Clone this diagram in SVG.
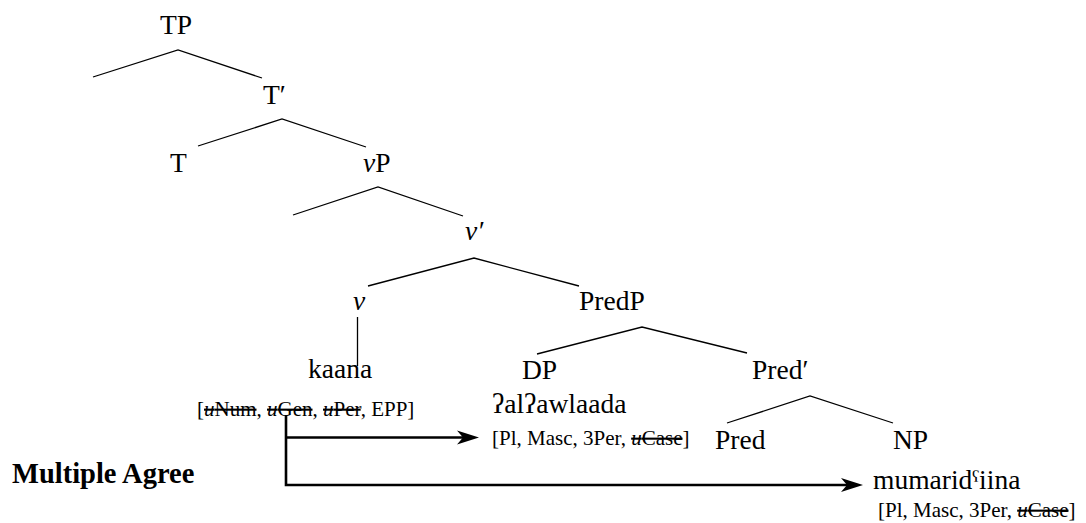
<svg xmlns="http://www.w3.org/2000/svg" width="1086" height="523" viewBox="0 0 1086 523">
<style>
text{font-family:"Liberation Serif","DejaVu Serif","Times New Roman",serif;fill:#000}
.n{font-size:27.5px}
.f{font-size:21px}
.b{font-size:28.5px;font-weight:bold}
.i{font-style:italic}
.s{text-decoration:line-through}
.br{fill:none;stroke:#000;stroke-width:1.3}
.ar{fill:none;stroke:#000;stroke-width:2.6}
</style>
<defs>
<marker id="ah" viewBox="0 0 22 16" refX="12" refY="8" markerWidth="22" markerHeight="16" markerUnits="userSpaceOnUse" orient="auto">
<path d="M0,1 L22,8 L0,15 L6,8 Z" fill="#000"/>
</marker>
</defs>
<rect width="1086" height="523" fill="#fff"/>
<g id="connectors">
<polyline class="br" points="93,77 178,50 262,78"/>
<polyline class="br" points="198,146 282,119 366,147"/>
<polyline class="br" points="293,215 378,187 463,216"/>
<polyline class="br" points="368,286 474,258 579,286"/>
<line class="br" x1="357.5" y1="317" x2="357.5" y2="366"/>
<polyline class="br" points="537,354 642,327 747,353"/>
<polyline class="br" points="727,423 810,396 893,423"/>
<path class="ar" d="M286,415 V485 H853" marker-end="url(#ah)"/>
<path class="ar" d="M286,437.5 H469" marker-end="url(#ah)"/>
</g>
<g id="TP"><text class="n" x="160" y="34">TP</text></g>
<g id="Tbar"><text class="n" x="263" y="104">T′</text></g>
<g id="T"><text class="n" x="170" y="172">T</text></g>
<g id="vP"><text class="n" x="363" y="172"><tspan class="i">v</tspan>P</text></g>
<g id="vbar"><text class="n" x="465" y="240"><tspan class="i">v′</tspan></text></g>
<g id="v"><text class="n i" x="353" y="310">v</text></g>
<g id="PredP"><text class="n" x="579" y="310">PredP</text></g>
<g id="kaana">
<text class="n" x="308" y="378">kaana</text>
<text class="f" x="197" y="416">[<tspan class="s"><tspan class="i">u</tspan>Num</tspan>, <tspan class="s"><tspan class="i">u</tspan>Gen</tspan>, <tspan class="s"><tspan class="i">u</tspan>Per</tspan>, EPP]</text>
</g>
<g id="DP">
<text class="n" x="522" y="379">DP</text>
<text class="n" x="492" y="413">ʔalʔawlaada</text>
<text class="f" x="492" y="445">[Pl, Masc, 3Per, <tspan class="s"><tspan class="i">u</tspan>Case</tspan>]</text>
</g>
<g id="Predbar"><text class="n" x="752" y="379">Pred′</text></g>
<g id="Pred"><text class="n" x="715" y="449">Pred</text></g>
<g id="NP">
<text class="n" x="893" y="449">NP</text>
<text class="n" x="873" y="489">mumaridˁiina</text>
<text class="f" x="878" y="517">[Pl, Masc, 3Per, <tspan class="s"><tspan class="i">u</tspan>Case</tspan>]</text>
</g>
<g id="label"><text class="b" x="12" y="483">Multiple Agree</text></g>
</svg>
